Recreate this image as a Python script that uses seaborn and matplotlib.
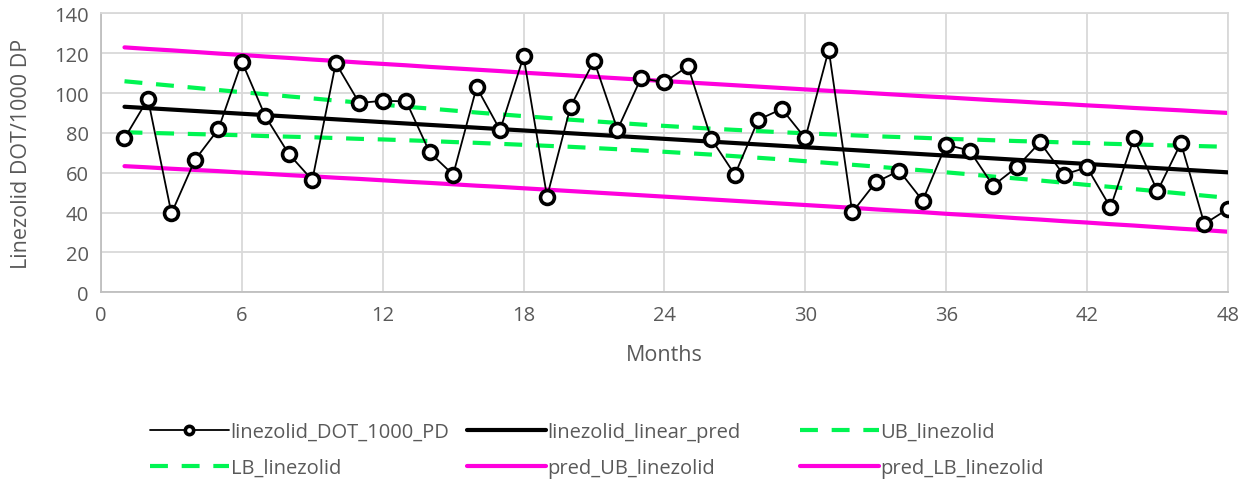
import numpy as np
import pandas as pd
import matplotlib
matplotlib.use("Agg")
import matplotlib.pyplot as plt
import seaborn as sns

months = list(range(1, 49))
dot_1000_pd = [77.3, 97.0, 39.6, 66.4, 81.9, 115.7, 88.3, 69.4, 56.3, 115.0,
               95.0, 96.1, 95.8, 70.2, 59.0, 102.9, 81.4, 118.4, 48.0, 93.1,
               116.2, 81.6, 107.4, 105.4, 113.4, 76.9, 59.0, 86.6, 92.0, 77.3,
               121.7, 40.1, 55.2, 61.0, 46.0, 74.1, 71.1, 53.5, 62.7, 75.3,
               59.0, 62.7, 42.6, 77.3, 50.7, 74.9, 34.3, 41.8]
linear_pred = [93.1, 92.4, 91.7, 91.0, 90.3, 89.6, 88.9, 88.2, 87.5, 86.8,
               86.1, 85.4, 84.7, 84.0, 83.3, 82.6, 81.9, 81.2, 80.5, 79.8,
               79.1, 78.4, 77.7, 77.0, 76.3, 75.6, 74.9, 74.2, 73.5, 72.8,
               72.1, 71.4, 70.7, 70.0, 69.3, 68.6, 67.9, 67.2, 66.5, 65.8,
               65.1, 64.4, 63.7, 63.0, 62.3, 61.6, 60.9, 60.2]
ub = [105.9, 104.8, 103.7, 102.6, 101.5, 100.4, 99.4, 98.3, 97.3, 96.2,
      95.2, 94.2, 93.1, 92.2, 91.2, 90.2, 89.3, 88.4, 87.5, 86.6,
      85.8, 85.0, 84.2, 83.5, 82.8, 82.1, 81.5, 80.9, 80.3, 79.8,
      79.3, 78.8, 78.3, 77.9, 77.5, 77.0, 76.7, 76.3, 75.9, 75.6,
      75.2, 74.9, 74.5, 74.2, 73.9, 73.6, 73.3, 73.0]
lb = [80.3, 80.0, 79.7, 79.4, 79.1, 78.8, 78.4, 78.1, 77.8, 77.4,
      77.0, 76.7, 76.3, 75.9, 75.4, 75.0, 74.5, 74.0, 73.5, 73.0,
      72.4, 71.8, 71.2, 70.5, 69.8, 69.1, 68.3, 67.5, 66.7, 65.8,
      64.9, 64.0, 63.1, 62.1, 61.2, 60.2, 59.2, 58.1, 57.1, 56.1,
      55.0, 53.9, 52.9, 51.8, 50.7, 49.6, 48.5, 47.4]
pred_ub = [122.9, 122.1, 121.4, 120.6, 119.8, 119.1, 118.3, 117.6, 116.8, 116.1,
           115.3, 114.6, 113.9, 113.1, 112.4, 111.7, 111.0, 110.2, 109.5, 108.8,
           108.1, 107.4, 106.7, 106.0, 105.3, 104.6, 103.9, 103.2, 102.5, 101.8,
           101.1, 100.5, 99.8, 99.1, 98.4, 97.8, 97.1, 96.4, 95.8, 95.1,
           94.5, 93.8, 93.2, 92.5, 91.9, 91.3, 90.6, 90.0]
pred_lb = [63.3, 62.7, 62.0, 61.4, 60.8, 60.1, 59.5, 58.8, 58.2, 57.5,
           56.9, 56.2, 55.5, 54.9, 54.2, 53.5, 52.9, 52.2, 51.5, 50.8,
           50.1, 49.4, 48.7, 48.0, 47.3, 46.6, 45.9, 45.2, 44.5, 43.8,
           43.1, 42.4, 41.6, 40.9, 40.2, 39.4, 38.7, 38.0, 37.2, 36.5,
           35.7, 35.0, 34.2, 33.5, 32.7, 31.9, 31.2, 30.4]

x_ticks = list(range(0, 49, 6))
y_ticks = list(range(0, 141, 20))

sns.set_theme(style="white")
plt.rcParams['font.family'] = ['Open Sans', 'DejaVu Sans']

TXT = '#595959'
GRID = '#D9D9D9'
GREEN = '#00F552'
MAGENTA = '#FF00DD'

fig = plt.figure(figsize=(12.41, 4.81), dpi=100)
ax = fig.add_axes([0.0814, 0.3902, 0.9894 - 0.0814, 0.9703 - 0.3902])

df = pd.DataFrame({'Months': months, 'dot': dot_1000_pd, 'lin': linear_pred,
                   'ub': ub, 'lb': lb, 'pub': pred_ub, 'plb': pred_lb})

sns.lineplot(data=df, x='Months', y='pub', ax=ax, color=MAGENTA, lw=3.0, legend=False)
sns.lineplot(data=df, x='Months', y='plb', ax=ax, color=MAGENTA, lw=3.0, legend=False)
sns.lineplot(data=df, x='Months', y='ub', ax=ax, color=GREEN, lw=3.0, legend=False)
sns.lineplot(data=df, x='Months', y='lb', ax=ax, color=GREEN, lw=3.0, legend=False)
sns.lineplot(data=df, x='Months', y='lin', ax=ax, color='black', lw=3.0, legend=False)
sns.lineplot(data=df, x='Months', y='dot', ax=ax, color='black', lw=1.3, legend=False,
             marker='o', markersize=10, markerfacecolor='white',
             markeredgecolor='black', markeredgewidth=2.6)

lines = ax.get_lines()
l_pub, l_plb, l_ub, l_lb, l_lin, l_dot = lines[:6]
for l in (l_ub, l_lb):
    l.set_dashes([4.3, 3.3])
l_dot.set_zorder(6)
l_lin.set_zorder(5)

ax.set_xlim(0, 48)
ax.set_ylim(0, 140)
ax.set_xticks(x_ticks)
ax.set_yticks(y_ticks)
ax.grid(True, color=GRID, lw=1.3)
ax.set_axisbelow(True)
for s in ax.spines.values():
    s.set_color(GRID)
    s.set_linewidth(1.3)
ax.spines['bottom'].set_color('#BFBFBF')
ax.spines['left'].set_color('#BFBFBF')
ax.tick_params(axis='both', length=0, labelsize=14.5, colors=TXT, pad=9)
ax.set_xlabel('Months', fontsize=15.5, color=TXT, labelpad=14)
ax.set_ylabel('Linezolid DOT/1000 DP', fontsize=15.5, color=TXT, labelpad=16)

common = dict(frameon=False, fontsize=14.5, handlelength=3.9, handletextpad=0.1,
              labelspacing=0.78, borderpad=0, borderaxespad=0, loc='upper left',
              markerscale=0.6)
for lines_, labels_, xpos in [
        ([l_dot, l_lb], ['linezolid_DOT_1000_PD', 'LB_linezolid'], 150 / 1241),
        ([l_lin, l_pub], ['linezolid_linear_pred', 'pred_UB_linezolid'], 467 / 1241),
        ([l_ub, l_plb], ['UB_linezolid', 'pred_LB_linezolid'], 800 / 1241)]:
    leg = fig.legend(lines_, labels_, bbox_to_anchor=(xpos, 1 - 423 / 481), **common)
    for t in leg.get_texts():
        t.set_color(TXT)

fig.savefig('out.png', dpi=100)
